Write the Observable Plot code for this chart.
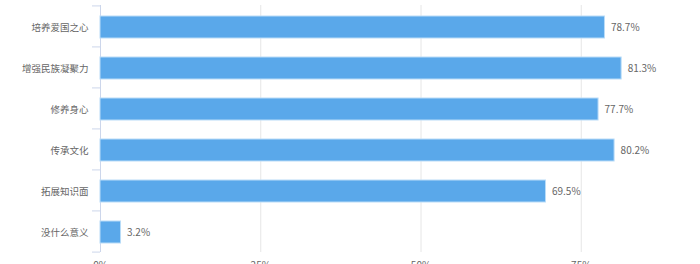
<!DOCTYPE html>
<html>
<head>
<meta charset="utf-8">
<script src="https://cdn.jsdelivr.net/npm/d3@7"></script>
<script src="https://cdn.jsdelivr.net/npm/@observablehq/plot@0.6"></script>
<style>
  html, body { margin: 0; padding: 0; background: #fff; }
  #chart svg { display: block; }
</style>
</head>
<body>
<div id="chart"></div>
<script>
const categories = ["培养爱国之心", "增强民族凝聚力", "修养身心", "传承文化", "拓展知识面", "没什么意义"];
const values = [78.7, 81.3, 77.7, 80.2, 69.5, 3.2];
const xTicks = [0, 25, 50, 75];

const data = categories.map((c, i) => ({category: c, value: values[i]}));

const W = 700, H = 264, mTop = 5, mBottom = 12, mLeft = 100;
const step = (H - mTop - mBottom) / categories.length;
const font = "'Noto Sans CJK SC', 'Noto Sans', sans-serif";

const chart = Plot.plot({
  width: W,
  height: H,
  marginLeft: mLeft,
  marginRight: 0,
  marginTop: mTop,
  marginBottom: mBottom,
  style: {fontFamily: font, fontSize: "10px", color: "#666", background: "#fff", overflow: "visible"},
  x: {domain: [0, 100], range: [mLeft, mLeft + 641]},
  y: {domain: categories, paddingInner: 0.46, paddingOuter: 0.23},
  marks: [
    Plot.gridX(xTicks.slice(1), {stroke: "#e6e6e6", strokeOpacity: 1}),
    Plot.axisX({ticks: xTicks, tickSize: 0, tickPadding: 9, tickFormat: d => d + "%", fill: "#666", fontSize: 10, label: null}),
    Plot.axisY({tickSize: 0, tickPadding: 12, fill: "#666", fontSize: 9.5, dy: 1, label: null}),
    Plot.axisY({tickSize: 8, tickFormat: () => "", dy: -step / 2, stroke: "#ccd6eb", label: null}),
    Plot.axisY({ticks: [categories[categories.length - 1]], tickSize: 8, tickFormat: () => "", dy: step / 2, stroke: "#ccd6eb", label: null}),
    Plot.ruleX([0], {stroke: "#ccd6eb"}),
    Plot.barX(data, {x: "value", y: "category", fill: "#5aa8ea", stroke: "#b9dcf8", strokeWidth: 1, dy: 1}),
    Plot.text(data, {x: "value", y: "category", text: d => d.value.toFixed(1) + "%", textAnchor: "start", dx: 6, dy: 1, fill: "#666", fontSize: 10})
  ]
});
document.getElementById("chart").appendChild(chart);
</script>
</body>
</html>
